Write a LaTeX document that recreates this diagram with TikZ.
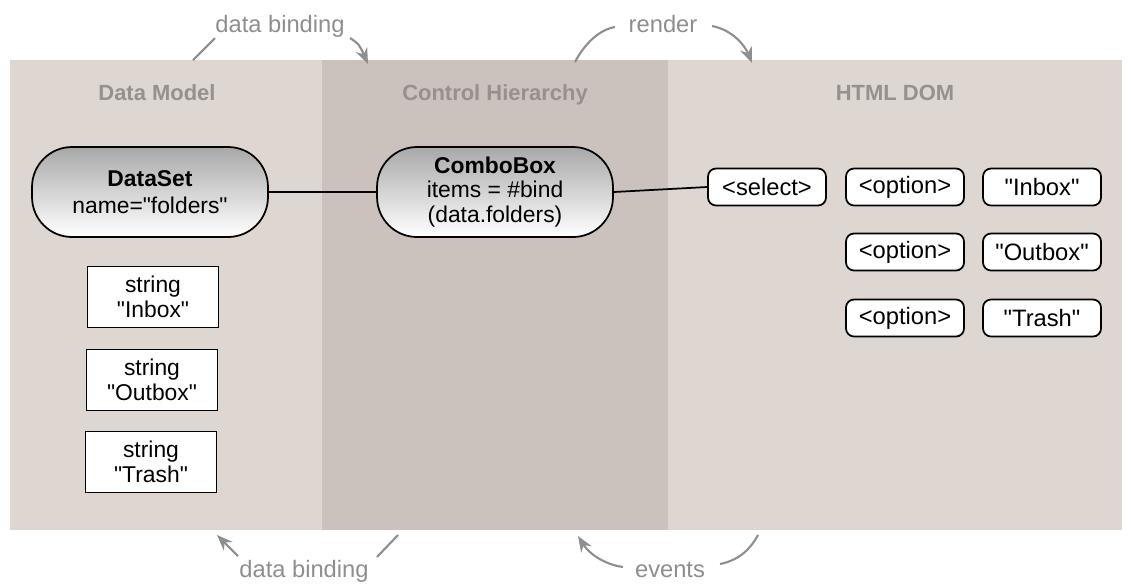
\documentclass[tikz,border=0pt]{standalone}
\usepackage{fontspec}
\setmainfont{Liberation Sans}[Ligatures=TeXOff]
\usetikzlibrary{arrows.meta}
\definecolor{paneLight}{HTML}{DDD6D1}
\definecolor{paneDark}{HTML}{CBC2BD}
\definecolor{headGray}{HTML}{96918D}
\definecolor{noteGray}{HTML}{8E8E8E}
\begin{document}
\begin{tikzpicture}[x=0.02cm,y=-0.02cm,>={Stealth[length=9pt,width=7pt]},
    every node/.style={font=\fontsize{13}{14}\selectfont},
    pill/.style={draw,line width=1pt,rounded corners=0.8cm,minimum width=4.72cm,
        minimum height=1.8cm,top color=black!34,bottom color=white,align=center,inner sep=0pt},
    tag/.style={draw,line width=1pt,rounded corners=0.16cm,fill=white,
        minimum width=2.36cm,minimum height=0.74cm,inner sep=0pt,font=\fontsize{13.5}{14}\selectfont},
    strbox/.style={draw,line width=1pt,fill=white,minimum width=2.62cm,
        minimum height=1.22cm,align=center,inner sep=0pt},
    head/.style={text=headGray,anchor=base,font=\fontsize{12.5}{14}\selectfont\bfseries},
    note/.style={text=noteGray,anchor=base,font=\fontsize{13.5}{14}\selectfont},
    ann/.style={noteGray,line width=1.2pt}]
    \useasboundingbox (0,0) rectangle (1131,586);
    \fill[paneLight] (10,60) rectangle (322,530);
    \fill[paneDark] (322,60) rectangle (668,530);
    \fill[paneLight] (668,60) rectangle (1122,530);

    \node[head] (H_model) at (157,100) {Data Model};
    \node[head] (H_ctrl) at (495,100) {Control Hierarchy};
    \node[head] (H_dom) at (895,100) {HTML DOM};

    \node[pill] (DataSet) at (150,192)
        {{\bfseries DataSet}\\[1pt]name="folders"};
    \node[pill] (Combo) at (495,192)
        {{\bfseries ComboBox}\\items = \#bind\\(data.folders)};

    \node[strbox] (S_1) at (153,297) {string\\"Inbox"};
    \node[strbox] (S_2) at (152,380) {string\\"Outbox"};
    \node[strbox] (S_3) at (151,462) {string\\"Trash"};

    \node[tag] (Sel) at (767,187) {<select>};
    \foreach \i/\y/\w in {1/187/Inbox,2/252/Outbox,3/318/Trash} {
        \node[tag] (Opt_\i) at (905,\y) {<option>};
        \node[tag] (Txt_\i) at (1042,\y) {"\w"};
    }

    \draw[line width=1pt] (DataSet) -- (Combo);
    \draw[line width=1pt] (Combo.east) -- (Sel.west);

    \node[note] (N_bind1) at (280,32) {data binding};
    \node[note] (N_render) at (663,32) {render};
    \node[note] (N_bind2) at (304,577) {data binding};
    \node[note] (N_events) at (670,577) {events};

    \coordinate (b1_a) at (215,38);  \coordinate (b1_b) at (193,60);
    \coordinate (b1_c) at (350,38);  \coordinate (b1_d) at (368,64);
    \coordinate (r_a) at (615,27);   \coordinate (r_b) at (575,62);
    \coordinate (r_c) at (712,26);   \coordinate (r_d) at (752,63);
    \coordinate (b2_a) at (238,556); \coordinate (b2_b) at (217,535);
    \coordinate (b2_c) at (377,557); \coordinate (b2_d) at (398,535);
    \coordinate (e_a) at (623,567);  \coordinate (e_b) at (578,536);
    \coordinate (e_c) at (720,564);  \coordinate (e_d) at (758,535);

    \draw[ann] (b1_a) -- (b1_b);
    \draw[ann,->] (b1_c) .. controls (359,44) .. (b1_d);
    \draw[ann] (r_a) .. controls (598,30) and (584,45) .. (r_b);
    \draw[ann,->] (r_c) .. controls (733,30) and (745,46) .. (r_d);
    \draw[ann,->] (b2_a) -- (b2_b);
    \draw[ann] (b2_c) -- (b2_d);
    \draw[ann,->] (e_a) .. controls (602,564) and (588,552) .. (e_b);
    \draw[ann] (e_c) .. controls (740,560) and (751,548) .. (e_d);
\end{tikzpicture}
\end{document}
